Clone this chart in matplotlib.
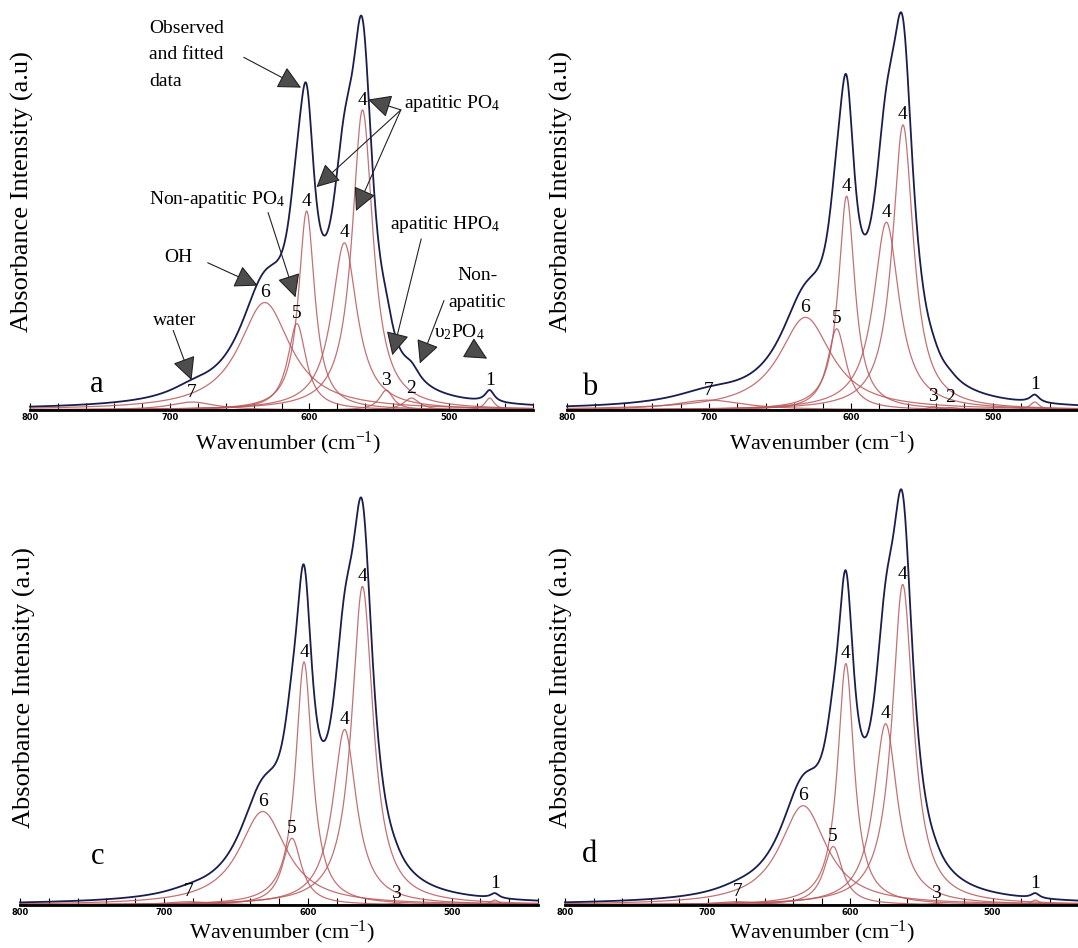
import numpy as np
import matplotlib
matplotlib.use('Agg')
import matplotlib.pyplot as plt
from matplotlib.ticker import MultipleLocator

plt.rcParams['font.family'] = ['Liberation Serif', 'DejaVu Serif']
plt.rcParams['mathtext.fontset'] = 'custom'
plt.rcParams['mathtext.rm'] = 'Liberation Serif'
plt.rcParams['mathtext.it'] = 'Liberation Serif:italic'

# fitted band parameters (centre cm-1, height a.u., FWHM cm-1)
labels_a = ['1', '2', '3', '4', '4', '4', '5', '6', '7']
centers_a = [471, 527, 545, 562, 575, 602, 609, 632, 684]
heights_a = [0.03, 0.03, 0.05, 0.754, 0.42, 0.50, 0.217, 0.27, 0.02]
widths_a = [8, 14, 12, 18, 22, 14, 16, 45, 40]

labels_b = ['1', '2', '3', '4', '4', '4', '5', '6', '7']
centers_b = [470.5, 530, 542, 563.3, 575, 603, 610, 632, 700]
heights_b = [0.02, 0.006, 0.008, 0.72, 0.474, 0.54, 0.205, 0.234, 0.025]
widths_b = [8, 12, 10, 18, 22, 14, 16, 45, 60]

labels_c = ['1', '3', '4', '4', '4', '5', '6', '7']
centers_c = [470, 539, 562, 574.4, 602.6, 611, 631.3, 683]
heights_c = [0.012, 0.004, 0.773, 0.426, 0.59, 0.162, 0.227, 0.008]
widths_c = [7, 10, 18, 20, 14, 16, 40, 40]

labels_d = ['1', '3', '4', '4', '4', '5', '6', '7']
centers_d = [470, 540, 563, 575, 602.9, 611.8, 632.9, 679]
heights_d = [0.012, 0.004, 0.778, 0.44, 0.586, 0.142, 0.241, 0.008]
widths_d = [7, 10, 18, 20, 14, 16, 40, 40]

panel_names = ['a', 'b', 'c', 'd']
letter_pos = [(752, 0.063), (783.7, 0.057), (746, 0.118), (783, 0.122)]

W, H = 1078, 948
# left, right, top, baseline in pixels
boxes = [(30, 533, 12, 410), (567, 1078, 14, 410),
         (20, 538, 493, 905), (565, 1078, 493, 905)]
ylabel_xy = [(22, 192), (561, 192), (24, 688), (561, 688)]
xlabel_xy = [(288, 443), (822, 443), (282, 932), (822, 932)]

navy = '#1a1e4c'
red = '#b9585b'

wn = np.linspace(800, 440, 1500)


def band(x, c, h, w):
    return h / (1 + ((x - c) / (w / 2.0)) ** 2)


fig = plt.figure(figsize=(W / 100, H / 100), dpi=100)

panels = [(labels_a, centers_a, heights_a, widths_a),
          (labels_b, centers_b, heights_b, widths_b),
          (labels_c, centers_c, heights_c, widths_c),
          (labels_d, centers_d, heights_d, widths_d)]

axes = []
for i, (labs, cens, hts, wds) in enumerate(panels):
    l, r, t, b = boxes[i]
    ax = fig.add_axes([l / W, 1 - b / H, (r - l) / W, (b - t) / H])
    axes.append(ax)
    total = np.zeros_like(wn)
    for c, h, w in zip(cens, hts, wds):
        comp = band(wn, c, h, w)
        total += comp
        ax.plot(wn, comp, color=red, lw=0.9, alpha=0.85, clip_on=False)
    ax.plot(wn, total, color=navy, lw=1.3, clip_on=False)

    for lab, c, h, w in zip(labs, cens, hts, wds):
        y = h
        if lab == '1':
            y = sum(band(c, cc, hh, ww) for cc, hh, ww in zip(cens, hts, wds))
        ax.annotate(lab, (c, y), xytext=(0, 1), textcoords='offset points',
                    ha='center', va='bottom', fontsize=14)

    ax.set_xlim(800, 440)
    ax.set_ylim(0, 1.0)
    for s in ['left', 'top', 'right']:
        ax.spines[s].set_visible(False)
    ax.spines['bottom'].set_linewidth(2)
    ax.spines['bottom'].set_color('black')
    ax.set_yticks([])
    ax.xaxis.set_major_locator(MultipleLocator(100))
    ax.xaxis.set_minor_locator(MultipleLocator(20))
    ax.tick_params(axis='x', which='both', direction='in', length=5, width=0.8, pad=2)
    for tl in ax.get_xticklabels():
        tl.set_family(['Liberation Sans Narrow', 'DejaVu Sans'])
        tl.set_fontsize(6)
        tl.set_fontweight('bold')
    ax.patch.set_alpha(0)

    lx, ly = letter_pos[i]
    ax.text(lx, ly, panel_names[i], fontsize=22, ha='center', va='center')

    fig.text(ylabel_xy[i][0] / W, 1 - ylabel_xy[i][1] / H, 'Absorbance Intensity (a.u)',
             rotation=90, ha='center', va='center', fontsize=19)
    fig.text(xlabel_xy[i][0] / W, 1 - xlabel_xy[i][1] / H, 'Wavenumber (cm$^{-1}$)',
             ha='center', va='center', fontsize=16)

# annotations of panel a
ax = axes[0]
arrow = dict(arrowstyle='-|>,head_length=0.9,head_width=0.45', mutation_scale=16,
             lw=0.8, color='#222222', fc='#4d4d4d', shrinkA=0, shrinkB=0)
fs = 14
ax.text(715, 0.958, 'Observed', fontsize=fs, va='center')
ax.text(715, 0.892, 'and fitted', fontsize=fs, va='center')
ax.text(715, 0.825, 'data', fontsize=fs, va='center')
ax.text(532, 0.77, 'apatitic PO$_4$', fontsize=fs, va='center')
ax.text(715, 0.53, 'Non-apatitic PO$_4$', fontsize=fs, va='center')
ax.text(542, 0.467, 'apatitic HPO$_4$', fontsize=fs, va='center')
ax.text(703.7, 0.383, 'OH', fontsize=fs, va='center')
ax.text(712, 0.225, 'water', fontsize=fs, va='center')
ax.text(480, 0.3375, 'Non-', fontsize=fs, va='center', ha='center')
ax.text(479.7, 0.27, 'apatitic', fontsize=fs, va='center', ha='center')
ax.text(493, 0.196, 'υ$_2$PO$_4$', fontsize=fs, va='center', ha='center')

arrows = [((647, 0.886), (606, 0.81)),
          ((534.6, 0.754), (558, 0.78)),
          ((534.6, 0.754), (595, 0.56)),
          ((534.6, 0.754), (566.7, 0.50)),
          ((629.6, 0.496), (610, 0.283)),
          ((520, 0.43), (540.7, 0.1375)),
          ((672.8, 0.37), (637, 0.3125)),
          ((697.5, 0.2), (684.4, 0.075)),
          ((503.7, 0.275), (521, 0.117)),
          ((485, 0.154), (472.8, 0.129))]
for tail, tip in arrows:
    ax.annotate('', xy=tip, xytext=tail, arrowprops=arrow)

fig.savefig('out.png', dpi=100)
